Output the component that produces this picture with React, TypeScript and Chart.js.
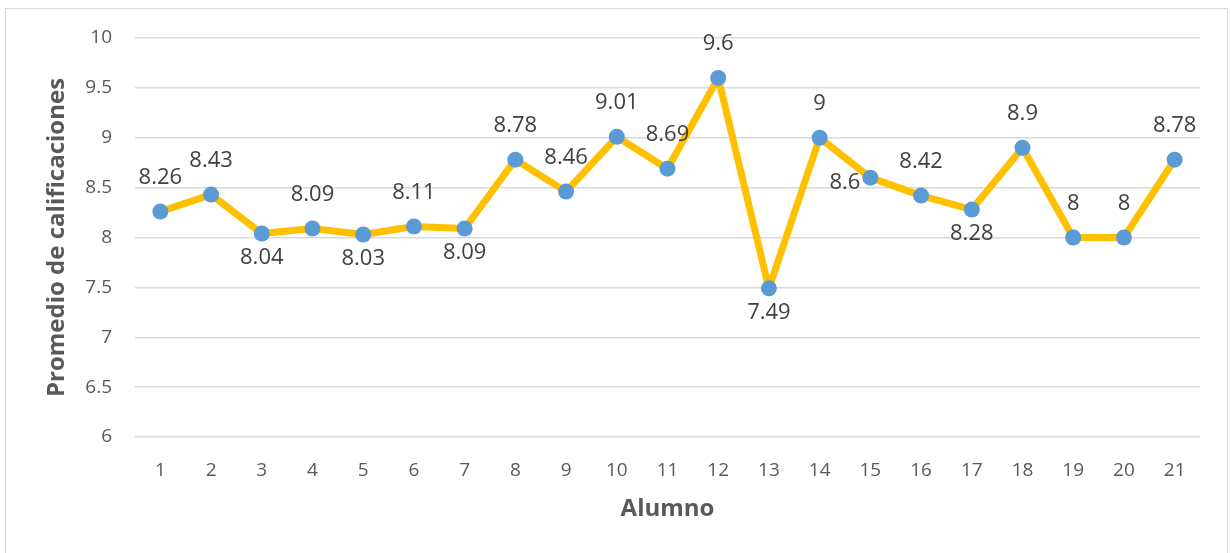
import { useEffect, useRef } from "react";
import { Chart, registerables } from "chart.js";

Chart.register(...registerables);

// Student numbers along the horizontal axis
const alumnos = [
  "1", "2", "3", "4", "5", "6", "7", "8", "9", "10", "11",
  "12", "13", "14", "15", "16", "17", "18", "19", "20", "21",
];

// Average grade of each student
const promedios = [
  8.26, 8.43, 8.04, 8.09, 8.03, 8.11, 8.09, 8.78, 8.46, 9.01, 8.69,
  9.6, 7.49, 9, 8.6, 8.42, 8.28, 8.9, 8, 8, 8.78,
];

// Vertical scale range and step
const yMin = 6;
const yMax = 10;
const yStep = 0.5;

// Where each value label sits relative to its point
const labelSide = [
  "above", "above", "below", "above", "below", "above", "below", "above", "above", "above", "above",
  "above", "below", "above", "left", "above", "below", "above", "above", "above", "above",
];

const FONT = '"Open Sans", sans-serif';
const TEXT = "#595959";

const valueLabels = {
  id: "valueLabels",
  afterDatasetsDraw(chart: any) {
    const ctx = chart.ctx as CanvasRenderingContext2D;
    const meta = chart.getDatasetMeta(0);
    ctx.save();
    ctx.font = `22px ${FONT}`;
    ctx.fillStyle = "#404040";
    ctx.textBaseline = "middle";
    meta.data.forEach((pt: any, i: number) => {
      const text = String(promedios[i]);
      const side = labelSide[i];
      if (side === "left") {
        ctx.textAlign = "right";
        ctx.fillText(text, pt.x - 10, pt.y + 5);
      } else {
        ctx.textAlign = "center";
        ctx.fillText(text, pt.x, side === "above" ? pt.y - 34 : pt.y + 24);
      }
    });
    ctx.restore();
  },
};

export default function App() {
  const canvasRef = useRef<HTMLCanvasElement | null>(null);

  useEffect(() => {
    if (!canvasRef.current) return;
    const chart = new Chart(canvasRef.current, {
      type: "line",
      data: {
        labels: alumnos,
        datasets: [
          {
            data: promedios,
            borderColor: "#FFC000",
            borderWidth: 7,
            borderJoinStyle: "round",
            borderCapStyle: "round",
            tension: 0,
            pointRadius: 8,
            pointHoverRadius: 8,
            pointBackgroundColor: "#5B9BD5",
            pointBorderColor: "#5B9BD5",
            pointBorderWidth: 0,
            fill: false,
          },
        ],
      },
      options: {
        animation: false,
        responsive: false,
        devicePixelRatio: 1,
        layout: { padding: { left: 43, right: 31, top: 38, bottom: 0 } },
        plugins: {
          legend: { display: false },
          tooltip: { enabled: false },
        },
        scales: {
          x: {
            offset: true,
            grid: { display: false, drawTicks: false },
            border: { display: false },
            ticks: {
              color: TEXT,
              font: { family: FONT, size: 19 },
              padding: 22,
              maxRotation: 0,
              autoSkip: false,
            },
            title: {
              display: true,
              text: "Alumno",
              color: TEXT,
              font: { family: FONT, size: 24, weight: "bold" },
              padding: { top: 0, bottom: 29 },
            },
            afterFit(scale: any) {
              scale.height = 116;
            },
          },
          y: {
            min: yMin,
            max: yMax,
            grid: { color: "#D9D9D9", lineWidth: 1.5, drawTicks: false },
            border: { display: false },
            ticks: {
              stepSize: yStep,
              color: TEXT,
              font: { family: FONT, size: 19 },
              padding: 23,
              callback: (v: any) => String(Number(v)),
            },
            title: {
              display: true,
              text: "Promedio de calificaciones",
              color: TEXT,
              font: { family: FONT, size: 24, weight: "bold" },
              padding: { top: 0, bottom: 0 },
            },
            afterFit(scale: any) {
              scale.width = 92;
            },
          },
        },
      },
      plugins: [valueLabels],
    });
    return () => chart.destroy();
  }, []);

  return (
    <div
      style={{
        position: "fixed",
        left: 0,
        top: 0,
        width: 1231,
        height: 553,
        overflow: "hidden",
        background: "#FFFFFF",
      }}
    >
      <div
        style={{
          position: "absolute",
          left: 5,
          top: 8,
          width: 1223,
          height: 560,
          border: "1px solid #D9D9D9",
          boxSizing: "border-box",
        }}
      />
      <canvas
        ref={canvasRef}
        width={1231}
        height={553}
        style={{ position: "absolute", left: 0, top: 0, width: 1231, height: 553 }}
      />
    </div>
  );
}
